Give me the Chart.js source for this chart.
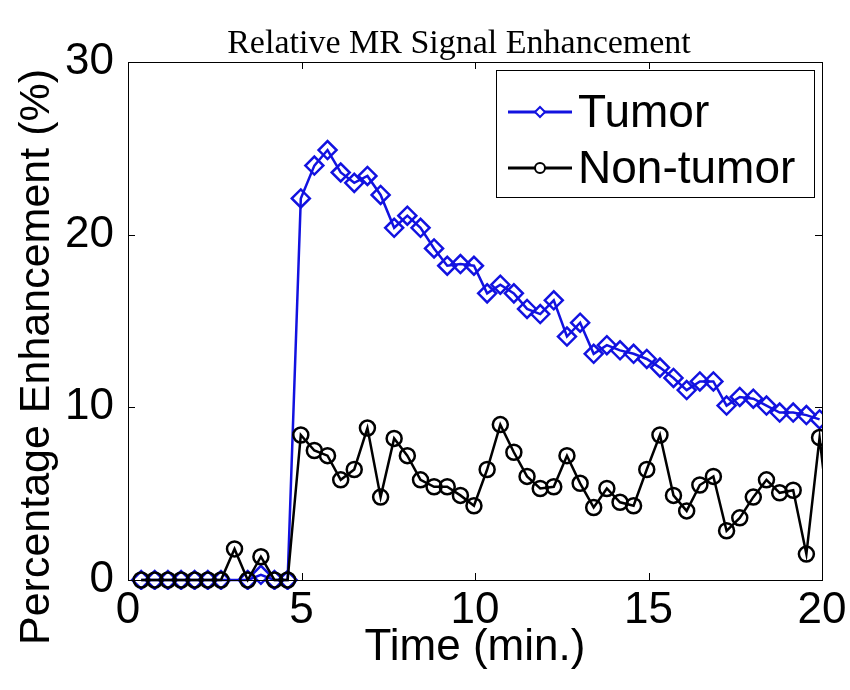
<!DOCTYPE html>
<html>
<head>
<meta charset="utf-8">
<script src="https://cdn.jsdelivr.net/npm/chart.js@4.4.1/dist/chart.umd.min.js"></script>
<style>
  html, body { margin: 0; padding: 0; background: #fff; }
  #wrap { width: 850px; height: 690px; }
</style>
</head>
<body>
<div id="wrap"><canvas id="enhChart" width="850" height="690"></canvas></div>
<script>
// Sampling times (min.), one scan every 23 s
const times = [0.38, 0.77, 1.15, 1.53, 1.92, 2.30, 2.68, 3.07, 3.45, 3.83,
  4.22, 4.60, 4.98, 5.37, 5.75, 6.13, 6.52, 6.90, 7.28, 7.67,
  8.05, 8.43, 8.82, 9.20, 9.58, 9.97, 10.35, 10.73, 11.12, 11.50,
  11.88, 12.27, 12.65, 13.03, 13.42, 13.80, 14.18, 14.57, 14.95, 15.33,
  15.72, 16.10, 16.48, 16.87, 17.25, 17.63, 18.02, 18.40, 18.78, 19.17,
  19.55, 19.93, 20.32];

// Relative enhancement (%)
const tumor = [0, 0, 0, 0, 0, 0, 0, null, 0, 0.3,
  0, 0, 22.1, 24.0, 24.9, 23.6, 23.0, 23.4, 22.3, 20.4,
  21.1, 20.4, 19.2, 18.2, 18.3, 18.2, 16.6, 17.1, 16.6, 15.7,
  15.4, 16.2, 14.1, 14.9, 13.1, 13.6, 13.3, 13.1, 12.8, 12.3,
  11.7, 11.0, 11.5, 11.5, 10.1, 10.6, 10.5, 10.1, 9.7, 9.7,
  9.55, 9.3];
const nonTumor = [0, 0, 0, 0, 0, 0, 0, 1.8, 0, 1.35,
  0, 0, 8.4, 7.5, 7.2, 5.8, 6.4, 8.8, 4.8, 8.2,
  7.2, 5.8, 5.4, 5.4, 4.9, 4.3, 6.4, 9.0, 7.4, 6.0,
  5.3, 5.4, 7.2, 5.6, 4.2, 5.3, 4.5, 4.3, 6.4, 8.4,
  4.9, 4.0, 5.5, 6.0, 2.85, 3.6, 4.8, 5.8, 5.05, 5.2,
  1.5, 8.25, 1.4];

const xTicks = [0, 5, 10, 15, 20];
const yTicks = [0, 10, 20, 30];

const seriesNames = ['Tumor', 'Non-tumor'];
const chartTitle = 'Relative MR Signal Enhancement';
const yTitle = 'Percentage Enhancement (%)';
const blue = '#1212e0';
const axisFont = '"Liberation Sans", Arial, sans-serif';

function toPoints(vals) {
    return vals.map((v, i) => ({ x: times[i], y: v }));
}

// MATLAB-style box: full frame plus inward ticks on all four sides
const boxPlugin = {
    id: 'matlabBox',
    afterDraw(chart) {
        const ctx = chart.ctx;
        const a = chart.chartArea;
        const xs = chart.scales.x, ys = chart.scales.y;
        const len = 7;
        ctx.save();
        ctx.strokeStyle = '#000';
        ctx.lineWidth = 1;
        ctx.strokeRect(a.left + 0.5, a.top + 0.5, a.right - a.left, a.bottom - a.top);
        ctx.beginPath();
        xTicks.forEach(v => {
            const px = Math.round(xs.getPixelForValue(v)) + 0.5;
            ctx.moveTo(px, a.bottom); ctx.lineTo(px, a.bottom - len);
            ctx.moveTo(px, a.top); ctx.lineTo(px, a.top + len);
        });
        yTicks.forEach(v => {
            const py = Math.round(ys.getPixelForValue(v)) + 0.5;
            ctx.moveTo(a.left, py); ctx.lineTo(a.left + len, py);
            ctx.moveTo(a.right, py); ctx.lineTo(a.right - len, py);
        });
        ctx.stroke();

        // figure title and y label, placed as in the original figure
        ctx.fillStyle = '#000';
        ctx.textAlign = 'center';
        ctx.textBaseline = 'alphabetic';
        ctx.font = '34px "Liberation Serif", "Times New Roman", serif';
        ctx.fillText(chartTitle, 459, 53);
        ctx.translate(37, 357);
        ctx.rotate(-Math.PI / 2);
        ctx.textBaseline = 'middle';
        ctx.font = '43px ' + axisFont;
        ctx.fillText(yTitle, 0, 0);
        ctx.restore();
    }
};

// Legend box in the upper right of the axes
const legendPlugin = {
    id: 'boxLegend',
    afterDraw(chart) {
        const ctx = chart.ctx;
        const bx = 496, by = 70, bw = 318, bh = 127;
        ctx.save();
        ctx.fillStyle = '#fff';
        ctx.fillRect(bx, by, bw, bh);
        ctx.strokeStyle = '#000';
        ctx.lineWidth = 1;
        ctx.strokeRect(bx + 0.5, by + 0.5, bw, bh);
        const rows = [{ ds: chart.data.datasets[1], y: 112 }, { ds: chart.data.datasets[0], y: 168 }];
        rows.forEach(r => {
            ctx.strokeStyle = r.ds.borderColor;
            ctx.lineWidth = 3;
            ctx.beginPath();
            ctx.moveTo(508, r.y);
            ctx.lineTo(572, r.y);
            ctx.stroke();
            ctx.fillStyle = '#fff';
            ctx.lineWidth = 2;
            Chart.helpers.drawPoint(ctx, { pointStyle: r.ds.pointStyle, radius: 5, borderWidth: 2, rotation: 0 }, 540, r.y);
            ctx.fillStyle = '#000';
            ctx.font = '46px ' + axisFont;
            ctx.textBaseline = 'middle';
            ctx.textAlign = 'left';
            ctx.fillText(r.ds.label, 578, r.y + 2);
        });
        ctx.restore();
    }
};

const chart = new Chart(document.getElementById('enhChart'), {
    type: 'line',
    data: {
        datasets: [{
            label: seriesNames[1],
            data: toPoints(nonTumor),
            borderColor: '#000',
            backgroundColor: 'rgba(0,0,0,0)',
            borderWidth: 2.5,
            pointStyle: 'circle',
            pointRadius: 7.5,
            pointBorderWidth: 2.5,
            pointBackgroundColor: 'rgba(0,0,0,0)',
            pointBorderColor: '#000',
            tension: 0,
            order: 0,
            clip: { left: 10, top: 10, right: 1, bottom: 10 }
        }, {
            label: seriesNames[0],
            data: toPoints(tumor),
            borderColor: blue,
            backgroundColor: 'rgba(0,0,0,0)',
            borderWidth: 2.5,
            pointStyle: 'rectRot',
            pointRadius: 9,
            pointBorderWidth: 2.5,
            pointBackgroundColor: 'rgba(0,0,0,0)',
            pointBorderColor: blue,
            spanGaps: true,
            tension: 0,
            order: 1,
            clip: { left: 10, top: 10, right: 1, bottom: 10 }
        }]
    },
    options: {
        responsive: false,
        animation: false,
        layout: { padding: { left: 0, right: 28, top: 62, bottom: 0 } },
        scales: {
            x: {
                type: 'linear',
                min: 0,
                max: 20,
                afterFit: s => { s.height = 110; },
                afterBuildTicks: s => { s.ticks = xTicks.map(v => ({ value: v })); },
                grid: { display: false },
                border: { display: false },
                ticks: { color: '#000', padding: -4, font: { family: axisFont, size: 44 } },
                title: {
                    display: true,
                    text: 'Time (min.)',
                    color: '#000',
                    font: { family: axisFont, size: 44 },
                    padding: { top: 0, bottom: 16 }
                }
            },
            y: {
                min: 0,
                max: 30,
                afterFit: s => { s.width = 128; },
                afterBuildTicks: s => { s.ticks = yTicks.map(v => ({ value: v })); },
                grid: { display: false },
                border: { display: false },
                ticks: { color: '#000', padding: 6, font: { family: axisFont, size: 44 } }
            }
        },
        plugins: {
            legend: { display: false },
            tooltip: { enabled: false },
            title: { display: false }
        }
    },
    plugins: [boxPlugin, legendPlugin]
});
</script>
</body>
</html>
